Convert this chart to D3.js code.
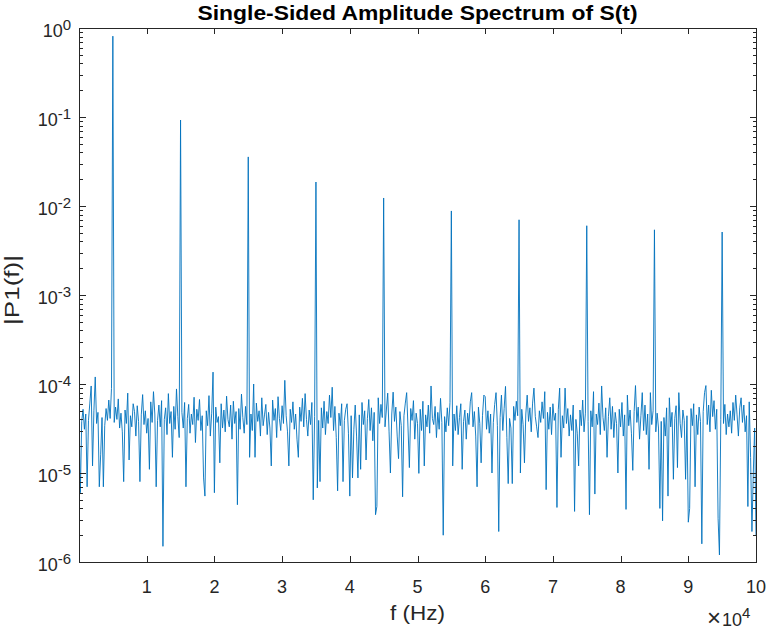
<!DOCTYPE html>
<html><head><meta charset="utf-8">
<script src="https://cdn.jsdelivr.net/npm/d3@7"></script>
<style>body{margin:0;background:#fff}svg{display:block}</style>
</head><body><svg id="chart" width="770" height="630"></svg>
<script>
// ---- data (single-sided amplitude spectrum, 200 Hz bins, 0 .. 100 kHz) ----
const binWidthHz = 200;
const amplitude = [
4.5e-5,6e-6,3.8e-5,5.2e-5,3.1e-5,4.6e-5,7e-6,3.9e-5,6.1e-5,9.5e-5,
1.2e-5,5.0e-5,1.2e-4,3.6e-5,4.8e-5,7e-6,1.6e-5,4.2e-5,7e-6,3.4e-5,
5.3e-5,3.9e-5,6.6e-5,4.1e-5,8.9e-5,0.81,3.7e-5,5.5e-5,4.0e-5,6.8e-5,
3.2e-5,4.7e-5,2.9e-5,8e-6,5.1e-5,3.6e-5,7.9e-5,1.4e-5,4.4e-5,3.3e-5,
6.0e-5,4.9e-5,2.6e-5,5.7e-5,3.8e-5,8e-6,4.5e-5,7.6e-5,3.5e-5,5.0e-5,
2.8e-5,4.1e-5,1.1e-5,6.3e-5,3.7e-5,8.2e-5,4.6e-5,7e-6,3.9e-5,5.8e-5,
3.3e-5,6.5e-5,1.5e-6,4.0e-5,5.4e-5,2.7e-5,7.8e-5,3.6e-5,4.9e-5,1.5e-5,
5.6e-5,3.1e-5,8.8e-5,4.3e-5,2.5e-5,0.0925,4.8e-5,3.2e-5,6.2e-5,7e-6,
4.1e-5,5.9e-5,2.8e-5,4.6e-5,3.5e-5,7.1e-5,2.2e-5,5.2e-5,3.9e-5,6.7e-5,
3.0e-5,4.4e-5,8.8e-6,5.5e-6,5.0e-5,3.4e-5,7.4e-5,2.6e-5,4.7e-5,1.36e-4,
6e-6,5.5e-5,3.7e-5,4.3e-5,1.3e-5,6.0e-5,3.2e-5,5.1e-5,2.9e-5,7.3e-5,
4.0e-5,3.3e-5,5.8e-5,2.4e-5,6.4e-5,3.6e-5,4.9e-5,4.4e-6,5.3e-5,3.1e-5,
7.7e-5,4.2e-5,2.8e-5,5.6e-5,3.5e-5,0.0356,1.5e-5,4.6e-5,3.0e-5,1.0e-4,
1.5e-5,6.1e-5,3.8e-5,5.0e-5,2.6e-5,7.0e-5,3.4e-5,4.5e-5,5.9e-5,2.7e-5,
4.8e-5,3.2e-5,1.2e-5,6.6e-5,3.9e-5,5.3e-5,2.5e-5,7.2e-5,4.1e-5,3.0e-5,
5.7e-5,3.6e-5,1.1e-4,4.4e-5,2.9e-5,1.2e-5,5.2e-5,3.7e-5,6.3e-5,3.1e-5,
4.6e-5,2.4e-5,1.5e-5,5.5e-5,3.8e-5,6.9e-5,3.3e-5,7.8e-5,4.0e-5,2.6e-5,
5.1e-5,3.5e-5,6.2e-5,5e-6,4.3e-5,0.0186,6.8e-6,3.9e-5,8e-6,5.4e-5,
3.2e-5,6.4e-5,2.7e-5,4.9e-5,3.6e-5,7.5e-5,4.2e-5,9.2e-5,3.0e-5,5.6e-5,
2.5e-5,6.3e-6,4.7e-5,3.4e-5,6.0e-5,8e-6,3.9e-5,5.2e-5,6.0e-5,2.8e-5,
5.5e-6,4.4e-5,8.8e-6,3.1e-5,5.8e-5,2.6e-5,8.8e-6,4.5e-5,1.1e-5,6.2e-5,
3.5e-5,5.0e-5,1.4e-5,4.1e-5,6.7e-5,3.0e-5,5.4e-5,2.3e-5,4.8e-5,3.4e-6,
4.2e-6,7.0e-5,3.6e-5,5.9e-5,4.2e-5,0.0123,3.3e-5,5.1e-5,7.9e-5,2.9e-5,
1.0e-5,4.6e-5,8.1e-5,3.8e-5,5.5e-5,2.6e-5,1.45e-5,4.9e-5,3.4e-5,5.4e-6,
4.4e-5,6.1e-5,8.0e-5,3.2e-5,1.15e-5,5.3e-5,3.9e-5,6.5e-5,2.4e-5,4.7e-5,
3.6e-5,9.9e-6,5.2e-5,3.0e-5,6.4e-5,1.2e-5,4.5e-5,3.3e-5,5.8e-5,2.8e-5,
9.5e-5,4.1e-5,3.5e-5,5.6e-5,2.5e-5,4.8e-5,3.1e-5,6.9e-5,3.7e-5,2e-6,
4.3e-5,2.9e-5,5.4e-5,3.4e-5,6.2e-5,0.0088,1.2e-5,4.6e-5,3.0e-5,5.7e-5,
2.7e-5,4.2e-5,6.0e-5,1.1e-5,3.8e-5,5.1e-5,2.4e-5,4.7e-5,3.5e-5,6.3e-5,
8.0e-5,3.3e-5,4.9e-5,2.6e-5,7e-6,5.5e-5,3.6e-5,1.3e-5,4.4e-5,7.5e-5,
7.2e-5,3.1e-5,5.0e-5,2.8e-5,4.6e-5,1.0e-5,3.7e-5,5.9e-5,8.0e-5,3.4e-5,
2.2e-6,4.2e-5,7.5e-5,3.0e-5,5.3e-5,9.4e-5,2.5e-5,7.6e-6,4.1e-5,3.2e-5,
7.6e-6,5.6e-5,3.9e-5,6.4e-5,4.4e-5,0.0070,1.0e-5,5.2e-5,3.5e-5,1.3e-5,
4.6e-5,7.5e-5,3.8e-5,5.4e-5,2.9e-5,6.1e-5,9.0e-5,4.3e-5,3.3e-5,2.5e-5,
5.0e-5,3.7e-5,6.3e-5,4.1e-5,8.2e-5,6.5e-6,4.8e-5,3.1e-5,5.5e-5,2.7e-5,
6.0e-5,3.9e-5,4.7e-5,4.1e-6,5.2e-5,9.0e-5,1.5e-5,4.4e-5,3.2e-5,9.0e-5,
3.6e-5,5.3e-5,2.6e-5,4.5e-5,3.0e-5,5.8e-5,3.7e-6,4.0e-5,2.8e-5,1.2e-5,
5.1e-5,3.4e-5,6.6e-5,2.9e-5,4.7e-5,0.0060,3.8e-5,3.4e-6,5.0e-5,3.3e-5,
8.2e-5,5.8e-6,4.6e-5,3.5e-5,6.1e-5,2.7e-5,9.5e-5,4.2e-5,3.0e-5,5.4e-5,
1.5e-5,4.3e-5,7.0e-5,3.1e-5,5.6e-5,2.5e-5,4.8e-5,3.6e-5,1.0e-5,5.2e-5,
3.3e-5,6.2e-5,2.6e-5,4.5e-5,3.9e-6,7.5e-5,3.4e-5,5.1e-5,2.8e-5,1.07e-5,
4.9e-5,9.6e-5,3.7e-5,5.5e-5,2.4e-5,4.4e-5,8.0e-5,3.0e-5,5.8e-5,2.7e-5,
4.6e-5,1.1e-5,8.0e-5,3.5e-5,5.0e-5,0.0054,2.9e-5,4.7e-5,3.2e-5,4e-6,
3.8e-5,2.9e-6,4.2e-5,2.6e-5,5.4e-5,5.5e-6,7.0e-5,3.3e-5,4.8e-5,8.5e-6,
4.1e-5,5.7e-5,1.15e-5,8.0e-5,3.6e-5,2.5e-5,5.1e-5,3.9e-5,8.5e-6,4.4e-5,
2.8e-6,4e-6,5.3e-5,3.4e-5,6.0e-5,7e-6,4.5e-5,2.7e-5,5.5e-5,3.8e-5,
1.6e-6,4.9e-5,8.0e-5,9.6e-5,3.5e-5,5.8e-5,2.9e-5,8.5e-5,4.3e-5,6.5e-5,
3.1e-5,5.2e-5,3.1e-6,1.2e-6,4.0e-5,0.0051,3.6e-5,5.9e-5,2.7e-5,4.6e-5,
3.3e-5,5.0e-5,2.8e-5,6.2e-5,3.9e-5,7.5e-5,4.5e-5,2.6e-5,5.4e-5,7.0e-5,
3.7e-5,5.8e-5,2.9e-5,4.4e-5,4.2e-6,6.3e-5,1.5e-5,2.2e-6,1.0e-5,3.2e-5,
2e-6
];
const frequency = amplitude.map((_, i) => i * binWidthHz);

const xTickValues = [1e4, 2e4, 3e4, 4e4, 5e4, 6e4, 7e4, 8e4, 9e4, 1e5];
const xTickLabels = ["1", "2", "3", "4", "5", "6", "7", "8", "9", "10"];
const yTickValues = [1e-6, 1e-5, 1e-4, 1e-3, 1e-2, 1e-1, 1];
const yTickExponents = ["-6", "-5", "-4", "-3", "-2", "-1", "0"];

const titleText = "Single-Sided Amplitude Spectrum of S(t)";
const xLabelText = "f (Hz)";
const yLabelText = "|P1(f)|";

// ---- layout ----
const W = 770, H = 630;
const L = 79, R = 756, T = 28, B = 562;
const FONT = "'Liberation Sans', Arial, Helvetica, sans-serif";
const AXC = "#262626";

const svg = d3.select("#chart");
svg.append("rect").attr("width", W).attr("height", H).attr("fill", "#fff");

const x = d3.scaleLinear().domain([0, 1e5]).range([L, R]);
const y = d3.scaleLog().domain([1e-6, 1]).range([B, T]);

// minor log ticks
const minorY = [];
for (let e = -6; e < 0; e++) for (let m = 2; m <= 9; m++) minorY.push(m * Math.pow(10, e));

// data line (clipped to plot box)
svg.append("clipPath").attr("id", "clip").append("rect")
  .attr("x", L).attr("y", T).attr("width", R - L).attr("height", B - T);

const line = d3.line().x((d, i) => x(frequency[i])).y(d => y(d));
svg.append("path").datum(amplitude)
  .attr("clip-path", "url(#clip)")
  .attr("d", line)
  .attr("fill", "none")
  .attr("stroke", "#0072BD")
  .attr("stroke-width", 0.9)
  .attr("stroke-linejoin", "miter");

// axes
function styleAxis(g) {
  g.selectAll("path.domain").attr("stroke", AXC).attr("stroke-width", 1);
  g.selectAll(".tick line").attr("stroke", AXC).attr("stroke-width", 1);
  g.selectAll(".tick text").remove();
  g.attr("shape-rendering", "crispEdges");
}
svg.append("g").attr("transform", `translate(0,${B})`)
  .call(d3.axisBottom(x).tickValues(xTickValues).tickSizeInner(-6).tickSizeOuter(0).tickFormat(""))
  .call(styleAxis);
svg.append("g").attr("transform", `translate(0,${T})`)
  .call(d3.axisTop(x).tickValues(xTickValues).tickSizeInner(-6).tickSizeOuter(0).tickFormat(""))
  .call(styleAxis);
svg.append("g").attr("transform", `translate(${L},0)`)
  .call(d3.axisLeft(y).tickValues(yTickValues).tickSizeInner(-6.5).tickSizeOuter(0).tickFormat(""))
  .call(styleAxis);
svg.append("g").attr("transform", `translate(${R},0)`)
  .call(d3.axisRight(y).tickValues(yTickValues).tickSizeInner(-6.5).tickSizeOuter(0).tickFormat(""))
  .call(styleAxis);
svg.append("g").attr("transform", `translate(${L},0)`)
  .call(d3.axisLeft(y).tickValues(minorY).tickSizeInner(-3.5).tickSizeOuter(0).tickFormat(""))
  .call(styleAxis).select("path.domain").remove();
svg.append("g").attr("transform", `translate(${R},0)`)
  .call(d3.axisRight(y).tickValues(minorY).tickSizeInner(-3.5).tickSizeOuter(0).tickFormat(""))
  .call(styleAxis).select("path.domain").remove();

// x tick labels
svg.append("g").selectAll("text").data(xTickValues).join("text")
  .attr("x", d => x(d)).attr("y", B + 31)
  .attr("text-anchor", "middle")
  .attr("font-family", FONT).attr("font-size", 18).attr("fill", AXC)
  .text((d, i) => xTickLabels[i]);

// x exponent
const ex = svg.append("text").attr("x", 707).attr("y", 626)
  .attr("text-anchor", "start").attr("font-family", FONT).attr("fill", AXC);
ex.append("tspan").attr("font-size", 24).attr("dy", 0).text("\u00D7");
ex.append("tspan").attr("font-size", 18).attr("dx", 1).text("10");
ex.append("tspan").attr("font-size", 15).attr("dy", -8).text("4");

// y tick labels
const yl = svg.append("g").selectAll("text").data(yTickValues).join("text")
  .attr("x", L - 8).attr("y", d => y(d) + 9)
  .attr("text-anchor", "end")
  .attr("font-family", FONT).attr("fill", AXC);
yl.append("tspan").attr("font-size", 18).text("10");
yl.append("tspan").attr("font-size", 15).attr("dy", -7).text((d, i) => yTickExponents[i]);

// title
svg.append("text").attr("x", (L + R) / 2).attr("y", 20)
  .attr("text-anchor", "middle").attr("font-family", FONT)
  .attr("font-weight", "bold").attr("font-size", 20).attr("fill", "#000")
  .attr("textLength", 440).attr("lengthAdjust", "spacingAndGlyphs")
  .text(titleText);

// x label
svg.append("text").attr("x", (L + R) / 2).attr("y", 620)
  .attr("text-anchor", "middle").attr("font-family", FONT)
  .attr("font-size", 21).attr("fill", AXC)
  .attr("textLength", 55).attr("lengthAdjust", "spacingAndGlyphs")
  .text(xLabelText);

// y label
svg.append("text").attr("transform", `translate(19,290) rotate(-90)`)
  .attr("text-anchor", "middle").attr("font-family", FONT)
  .attr("font-size", 20).attr("fill", AXC)
  .attr("textLength", 70).attr("lengthAdjust", "spacingAndGlyphs")
  .text(yLabelText);
</script></body></html>
